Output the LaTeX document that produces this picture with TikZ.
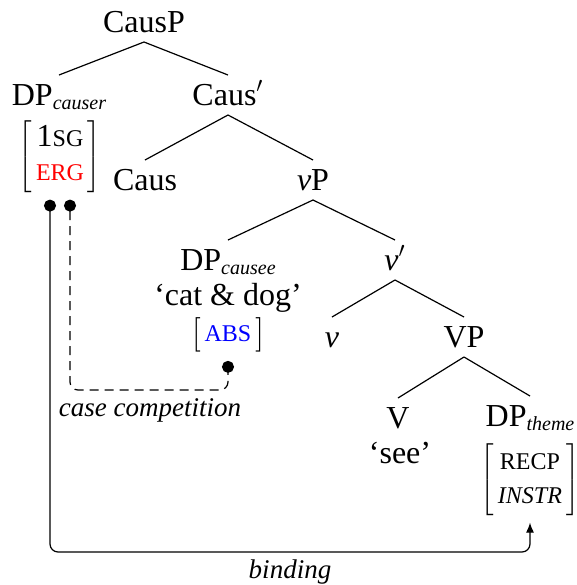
\documentclass[tikz,border=0pt]{standalone}
\usepackage{fontspec}
\setmainfont{Liberation Serif}
\usepackage{tikz}
\usetikzlibrary{arrows.meta}
\delimitershortfall=0pt
\newcommand{\fcap}[1]{{\fontsize{12}{12}\selectfont #1}}
\newcommand{\throle}[1]{\raisebox{-2pt}{\fontsize{10}{12}\selectfont\itshape #1}}
\newcommand{\featbox}[1]{$\left[\begin{tabular}{@{\hspace{2pt}}c@{\hspace{2pt}}}#1\end{tabular}\right]$}
\tikzset{treenode/.style={anchor=base,inner ysep=0pt,text height=10pt,text depth=0pt,outer ysep=5pt},
  featnode/.style={inner sep=0pt},
  linklabel/.style={anchor=base,font=\fontsize{13.5}{15}\selectfont\itshape},
  linkline/.style={semithick,rounded corners=4pt}}

\begin{document}
\begin{tikzpicture}[x=0.5pt,y=-0.5pt,font=\fontsize{16}{17}\selectfont,semithick]
    \useasboundingbox (0,0) rectangle (577,585);
    \node[treenode] (causp) at (144,32) {CausP};
    \node[treenode] (causer) at (59,105) {DP\throle{causer}};
    \node[featnode] (causerf) at (60,157) {\featbox{1\fcap{SG}\\ \textcolor{red}{\fcap{ERG}}}};
    \node[treenode] (causbar) at (228,105) {Caus$'$};
    \node[treenode] (caus) at (145,190) {Caus};
    \node[treenode] (vp) at (313,190) {\textit{v}P};
    \node[treenode] (causee) at (228,270) {DP\throle{causee}};
    \node[anchor=base] (catdog) at (228,305) {`cat \& dog'};
    \node[featnode] (causeef) at (228,335) {\featbox{\textcolor{blue}{\fcap{ABS}}}};
    \node[treenode] (vbar) at (395,270) {\textit{v}$'$};
    \node[treenode] (v) at (332,347) {\textit{v}};
    \node[treenode] (vP) at (464,347) {VP};
    \node[treenode] (verb) at (398,428) {V};
    \node[anchor=base] (see) at (400,463) {`see'};
    \node[treenode] (theme) at (530,426) {DP\throle{theme}};
    \node[featnode] (themef) at (530,480) {\featbox{\fcap{RECP}\\ \textit{\fcap{INSTR}}}};

    \foreach \a/\b in {causp/causer,causp/causbar,causbar/caus,causbar/vp,vp/causee,vp/vbar,vbar/v,vbar/vP,vP/verb,vP/theme}
      \draw (\a.south) -- (\b.north);

    % case competition
    \coordinate (compA) at ([xshift=5pt,yshift=-3pt]causerf.south);
    \coordinate (compB) at ([yshift=-4pt]causeef.south);
    \coordinate (complow) at (150,390);
    \draw[linkline,dash pattern=on 4.5pt off 3pt,{Circle[length=6pt]}-{Circle[length=6pt]}] (compA) |- (complow) -| (compB);
    \node[linklabel] (complbl) at (150,416) {case competition};

    % binding
    \coordinate (bindA) at ([xshift=-5pt,yshift=-3pt]causerf.south);
    \coordinate (bindB) at ([yshift=-3pt]themef.south);
    \coordinate (bindlow) at (290,552);
    \draw[linkline,{Circle[length=6pt]}-{Latex[length=5pt,width=4pt]}] (bindA) |- (bindlow) -| (bindB);
    \node[linklabel] (bindlbl) at (290,578) {binding};
  \end{tikzpicture}
\end{document}
